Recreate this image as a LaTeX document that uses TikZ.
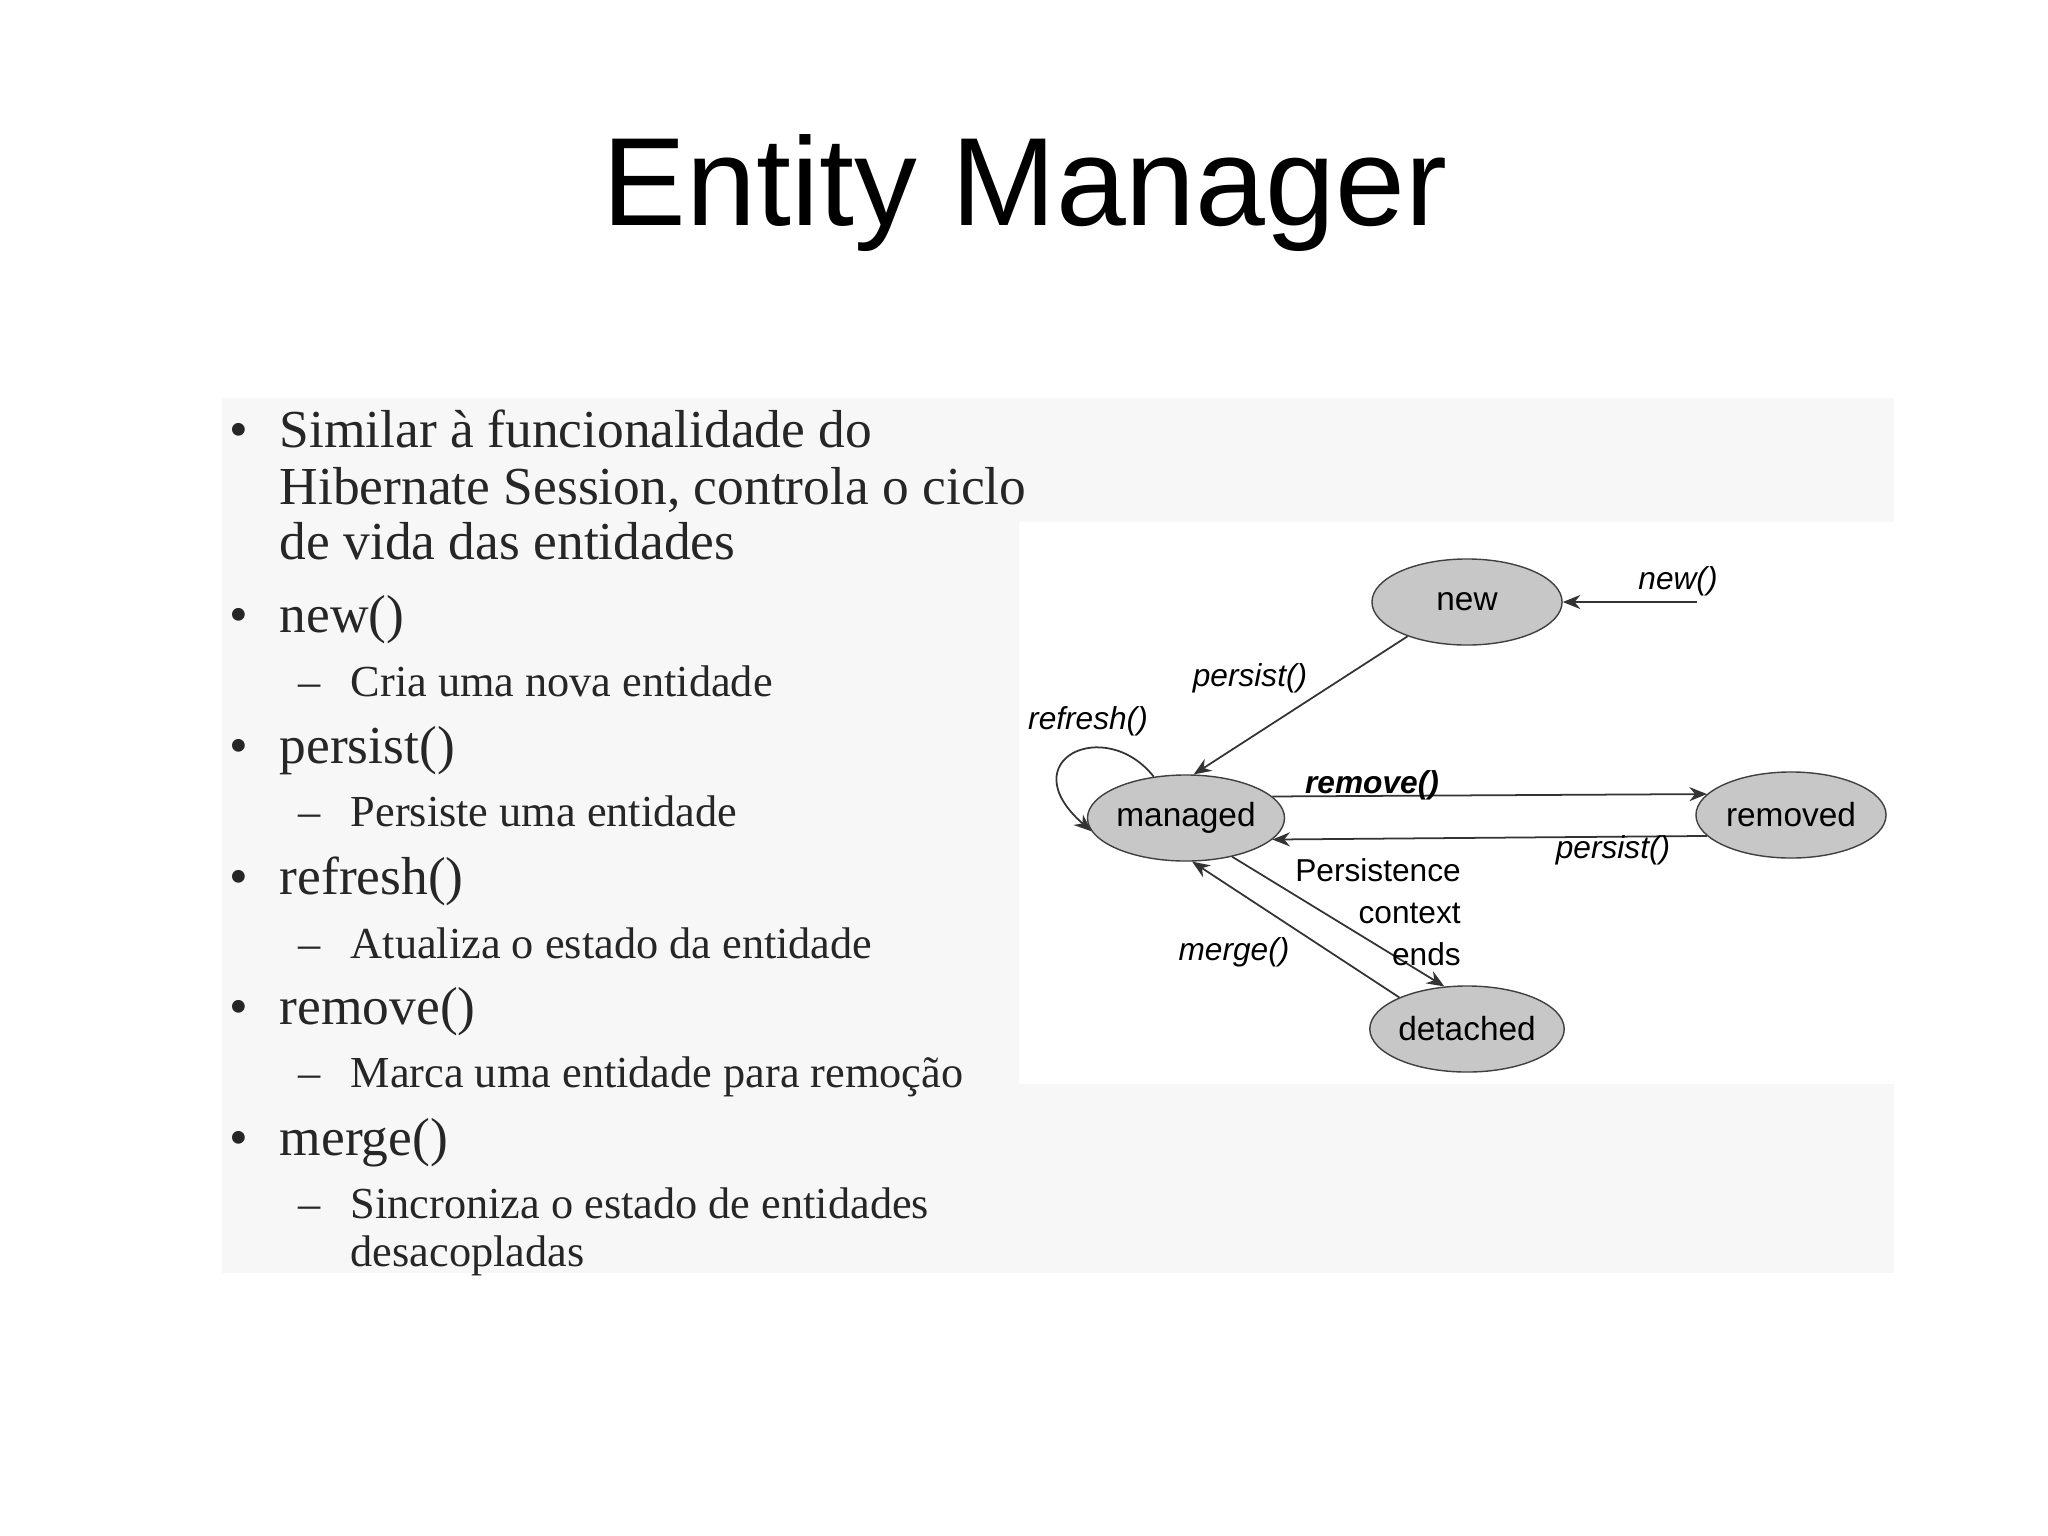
\documentclass[tikz,border=0pt]{standalone}
\usepackage{fontspec}
\setmainfont{Liberation Serif}
\setsansfont{Liberation Sans}
\usetikzlibrary{shapes.geometric,arrows.meta}
\begin{document}
\begin{tikzpicture}[x=0.01cm,y=-0.01cm,
  bul/.style={anchor=west,inner sep=0,text height=0.7em,text depth=0.22em,text=black!85,font=\fontsize{15.2}{18}\selectfont},
  sub/.style={anchor=west,inner sep=0,text height=0.7em,text depth=0.22em,text=black!85,font=\fontsize{12.6}{15}\selectfont},
  st/.style={ellipse,draw=black!75,fill=black!22,minimum width=1.9cm,minimum height=0.86cm,inner sep=0,font=\sffamily\fontsize{9.5}{11}\selectfont},
  lab/.style={font=\sffamily\itshape\fontsize{9}{11}\selectfont,inner sep=1pt},
  ar/.style={-{Stealth[length=5pt,width=4pt]},black!80,line width=0.5pt}]
\useasboundingbox (0,0) rectangle (2048,1536);
\fill[white] (0,0) rectangle (2048,1536);
\fill[black!3] (222,398) rectangle (1894,1273);
\fill[white] (1019,522) rectangle (1894,1084);
\node[font=\sffamily\fontsize{35.7}{42}\selectfont] (title) at (1025,193) {Entity Manager};
% bullets
\foreach \y in {439,624,755,886,1016,1147}{
  \node[bul] at (229,\y) {•};}
\node[bul] (t1) at (279,439) {Similar à funcionalidade do};
\node[bul] (t2) at (279,496) {Hibernate Session, controla o ciclo};
\node[bul] (t3) at (279,551) {de vida das entidades};
\node[bul] (t4) at (279,624) {new()};
\node[bul] (t6) at (279,755) {persist()};
\node[bul] (t8) at (279,886) {refresh()};
\node[bul] (t10) at (279,1016) {remove()};
\node[bul] (t12) at (279,1147) {merge()};
\foreach \y in {688,818,950,1079,1210}{\node[sub] at (298,\y) {–};}
\node[sub] (s1) at (350,688) {Cria uma nova entidade};
\node[sub] (s2) at (350,818) {Persiste uma entidade};
\node[sub] (s3) at (350,950) {Atualiza o estado da entidade};
\node[sub] (s4) at (350,1079) {Marca uma entidade para remoção};
\node[sub] (s5) at (350,1210) {Sincroniza o estado de entidades};
\node[sub] (s6) at (350,1258) {desacopladas};
% diagram
\node[st] (new) at (1467,602) {new};
\node[st] (managed) at (1186,818) {managed};
\node[st] (removed) at (1791,815) {removed};
\node[st] (detached) at (1467,1029) {detached};
\coordinate (newin) at (1697,602);
\draw[ar] (newin) -- (new.east);
\node[lab] at (1678,581) {new()};
\draw[ar] (new.-150) -- (managed.80);
\node[lab] at (1250,678) {persist()};
\draw[ar] (managed.128) .. controls (1105,715) and (1010,760) .. (managed.188);
\node[lab] at (1088,721) {refresh()};
\draw[ar] (managed.14) -- (removed.166);
\node[lab,font=\sffamily\itshape\bfseries\fontsize{9}{11}\selectfont] at (1372,785) {remove()};
\draw[ar] (removed.194) -- (managed.346);
\node[lab] at (1613,850) {persist()};
\draw[ar] (managed.-40) -- (detached.118);
\node[align=right,font=\sffamily\fontsize{9}{12}\selectfont,inner sep=0] at (1378,912) {Persistence\\context\\ends};
\draw[ar] (detached.155) -- (managed.-82);
\node[lab] at (1234,952) {merge()};
\end{tikzpicture}
\end{document}
